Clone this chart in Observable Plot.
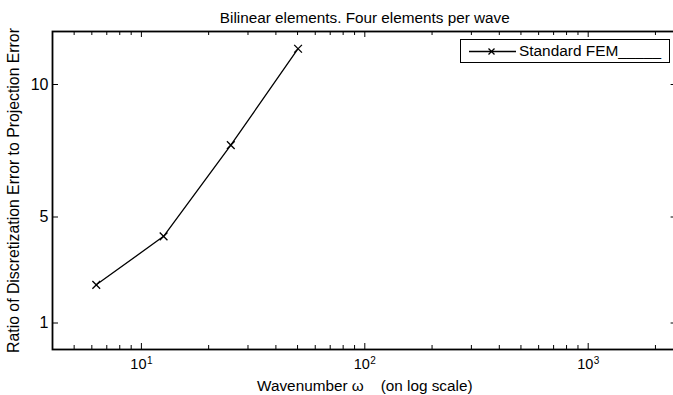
<!DOCTYPE html>
<html><head><meta charset="utf-8">
<script src="https://cdn.jsdelivr.net/npm/d3@7"></script>
<script src="https://cdn.jsdelivr.net/npm/@observablehq/plot@0.6"></script>
<style>
body{margin:0;background:#fff;}
#wrap{position:relative;width:673px;height:395px;overflow:hidden;font-family:"Liberation Sans",Arial,Helvetica,sans-serif;background:#fff;}
#wrap svg{display:block;max-width:none !important;}
#legend{position:absolute;left:460px;top:38.5px;width:210px;height:24px;border:1.5px solid #000;background:#fff;box-sizing:border-box;font-size:15.4px;color:#000;}
#legend svg{position:absolute;left:7px;top:4px;}
#legend span{position:absolute;left:58px;top:2.5px;line-height:18px;white-space:pre;}
</style></head><body><div id="wrap"></div>
<script>
const omega = [6.28, 12.57, 25.13, 50.27];
const ratio = [2.44, 4.27, 7.71, 11.35];
const yTicks = [1, 5, 10];
const xMajor = [10, 100, 1000];
const xExp = ["1", "2", "3"];
const xMinor = [5, 6, 7, 8, 9, 20, 30, 40, 50, 60, 70, 80, 90, 200, 300, 400, 500, 600, 700, 800, 900, 2000];
const titleText = "Bilinear elements. Four elements per wave";
const xLabel = "Wavenumber \u03c9\u00a0\u00a0\u00a0\u00a0(on log scale)";
const yLabel = "Ratio of Discretization Error to Projection Error";
const seriesName = "Standard FEM_____";

const data = omega.map((w, i) => ({w, r: ratio[i]}));
const W = 680, H = 395, mL = 52, mR = 3.4, mT = 31, mB = 46;
const pw = W - mL - mR, ph = H - mT - mB;
const font = "'Liberation Sans', Arial, Helvetica, sans-serif";

const chart = Plot.plot({
  width: W, height: H,
  marginLeft: mL, marginRight: mR, marginTop: mT, marginBottom: mB,
  style: {fontFamily: font, background: "#fff", color: "#000", maxWidth: "none"},
  x: {type: "log", domain: [4, 2500], axis: null},
  y: {type: "linear", domain: [0, 12], axis: null},
  marks: [
    Plot.ruleX(xMajor, {x: d => d, insetTop: ph - 6, stroke: "#000", strokeWidth: 1}),
    Plot.ruleX(xMinor, {x: d => d, insetTop: ph - 4, stroke: "#000", strokeWidth: 1}),
    Plot.ruleX(xMajor, {x: d => d, insetBottom: ph - 6, stroke: "#000", strokeWidth: 1}),
    Plot.ruleX(xMinor, {x: d => d, insetBottom: ph - 4, stroke: "#000", strokeWidth: 1}),
    Plot.ruleY(yTicks, {y: d => d, insetRight: pw - 6, stroke: "#000", strokeWidth: 1}),
    Plot.ruleY(yTicks, {y: d => d, insetLeft: pw - 6, stroke: "#000", strokeWidth: 1}),
    Plot.frame({stroke: "#000", strokeWidth: 1.8}),
    Plot.line(data, {x: "w", y: "r", stroke: "#000", strokeWidth: 1.3}),
    Plot.dot(data, {x: "w", y: "r", symbol: "times", r: 3.6, stroke: "#000", strokeWidth: 1.3}),
    Plot.text(yTicks, {y: d => d, text: d => String(d), frameAnchor: "left", dx: -4, textAnchor: "end", fontSize: 16, fill: "#000"}),
    Plot.text(xMajor, {x: d => d, text: () => "10", frameAnchor: "bottom", dy: 19, dx: -3, textAnchor: "middle", fontSize: 14.5, fill: "#000"}),
    Plot.text(xMajor.map((v, i) => ({v, e: xExp[i]})), {x: "v", text: "e", frameAnchor: "bottom", dy: 14, dx: 5.5, textAnchor: "start", fontSize: 10, fill: "#000"}),
    Plot.text([xLabel], {text: d => d, frameAnchor: "bottom", dy: 41, textAnchor: "middle", fontSize: 15.3, fill: "#000"}),
    Plot.text([yLabel], {text: d => d, frameAnchor: "left", dx: -38.5, rotate: -90, textAnchor: "middle", fontSize: 15.8, fill: "#000"}),
    Plot.text([titleText], {text: d => d, frameAnchor: "top", dy: -19, textAnchor: "middle", fontSize: 15.3, fill: "#000"})
  ]
});
const wrap = document.getElementById("wrap");
wrap.appendChild(chart);

const legend = document.createElement("div");
legend.id = "legend";
const ls = d3.create("svg").attr("width", 48).attr("height", 14);
ls.append("line").attr("x1", 1).attr("x2", 48).attr("y1", 7.5).attr("y2", 7.5).attr("stroke", "#000").attr("stroke-width", 1.3);
ls.append("path").attr("d", "M20.5,4.5L26.5,10.5M26.5,4.5L20.5,10.5").attr("stroke", "#000").attr("stroke-width", 1.3);
legend.appendChild(ls.node());
const sp = document.createElement("span");
sp.textContent = seriesName;
legend.appendChild(sp);
wrap.appendChild(legend);
</script>
</body></html>
